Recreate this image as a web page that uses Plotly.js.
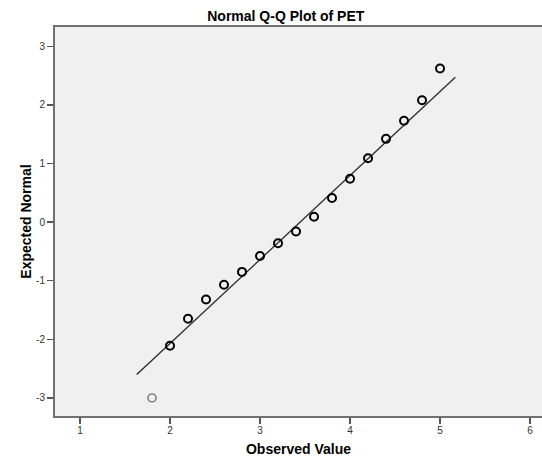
<!DOCTYPE html>
<html>
<head>
<meta charset="utf-8">
<script src="https://cdn.plot.ly/plotly-3.0.1.min.js"></script>
<style>
  html, body { margin: 0; padding: 0; background: #ffffff; }
  #chart { width: 542px; height: 462px; }
</style>
</head>
<body>
<div id="chart"></div>
<script>
// Observed PET values and their expected normal scores
const observed = [1.8, 2.0, 2.2, 2.4, 2.6, 2.8, 3.0, 3.2, 3.4, 3.6, 3.8, 4.0, 4.2, 4.4, 4.6, 4.8, 5.0];
const expectedNormal = [-3.0, -2.11, -1.65, -1.32, -1.07, -0.85, -0.58, -0.36, -0.16, 0.09, 0.41, 0.74, 1.09, 1.42, 1.73, 2.08, 2.62];

// Reference normal line: z = (x - mean) / sd, drawn over this span
const refMean = 3.446;
const refSd = 0.698;
const refLineX = [1.63, 5.17];
const refLineY = refLineX.map(x => (x - refMean) / refSd);

const xTicks = [1, 2, 3, 4, 5, 6];
const yTicks = [-3, -2, -1, 0, 1, 2, 3];

const markerColors = observed.map((v, i) => i === 0 ? '#6f6f6f' : '#000000');
const markerWidths = observed.map((v, i) => i === 0 ? 1.4 : 2);

const traces = [
  {
    x: refLineX, y: refLineY,
    type: 'scatter', mode: 'lines',
    line: { color: '#2a2a2a', width: 1.3 },
    hoverinfo: 'skip'
  },
  {
    x: observed, y: expectedNormal,
    type: 'scatter', mode: 'markers',
    marker: {
      symbol: 'circle-open',
      size: 8,
      color: markerColors,
      line: { color: markerColors, width: markerWidths }
    }
  }
];

const axisFont = { family: 'Liberation Sans, Arial, sans-serif', size: 14, color: '#000000' };
const tickFont = { family: 'Liberation Sans, Arial, sans-serif', size: 10, color: '#333333' };

const layout = {
  width: 542, height: 462,
  margin: { l: 55, r: 0, t: 27, b: 46, pad: 0 },
  paper_bgcolor: '#ffffff',
  plot_bgcolor: '#f0f0f0',
  showlegend: false,
  title: {
    text: '<b>Normal Q-Q Plot of PET</b>',
    font: { family: 'Liberation Sans, Arial, sans-serif', size: 14, color: '#000000' },
    x: 285.8 / 542, xanchor: 'center', xref: 'container',
    y: 1 - 16 / 462, yanchor: 'middle', yref: 'container'
  },
  xaxis: {
    range: [0.722, 6.133],
    tickvals: xTicks, ticktext: xTicks.map(String),
    ticks: 'outside', ticklen: 6, tickwidth: 1.5, tickcolor: '#555555',
    ticklabelstandoff: -2,
    tickfont: tickFont,
    showgrid: false, zeroline: false,
    showline: true, linecolor: '#707070', linewidth: 2, mirror: true,
    title: { text: '<b>Observed Value</b>', font: axisFont, standoff: 9 }
  },
  yaxis: {
    range: [-3.309, 3.329],
    tickvals: yTicks, ticktext: yTicks.map(String),
    ticks: 'outside', ticklen: 6, tickwidth: 1.5, tickcolor: '#555555',
    tickfont: tickFont,
    showgrid: false, zeroline: false,
    showline: true, linecolor: '#707070', linewidth: 2,
    title: { text: '<b>Expected Normal</b>', font: axisFont, standoff: 1 }
  }
};

Plotly.newPlot('chart', traces, layout, { displayModeBar: false, staticPlot: true });
</script>
</body>
</html>
